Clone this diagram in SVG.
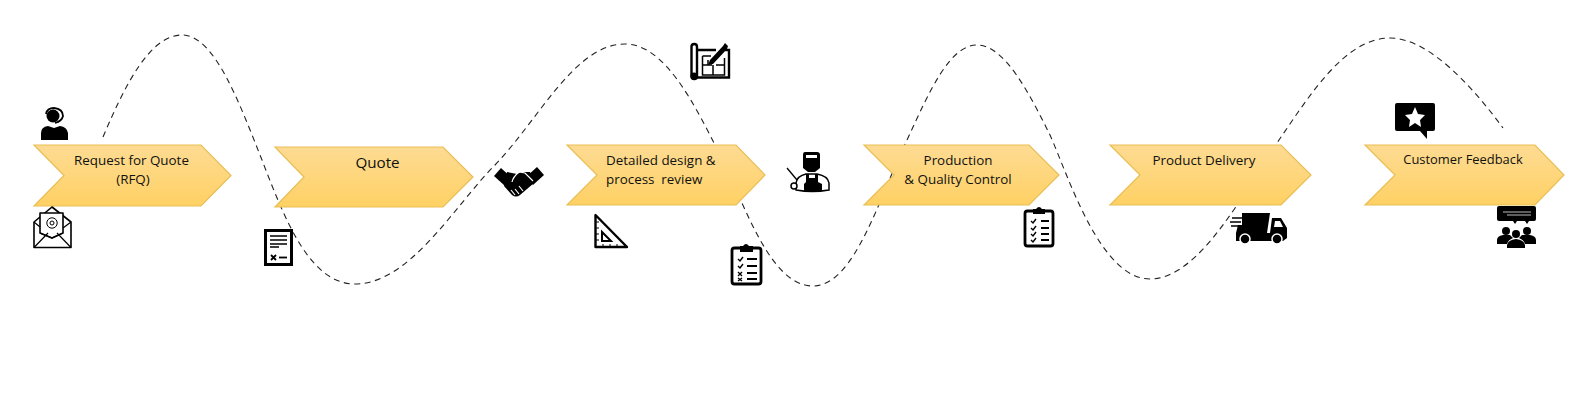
<svg xmlns="http://www.w3.org/2000/svg" width="1569" height="408" viewBox="0 0 1569 408">
<defs>
<linearGradient id="gold" x1="0" y1="0" x2="0" y2="1"><stop offset="0" stop-color="#FDDB93"/><stop offset="1" stop-color="#FFD164"/></linearGradient>
</defs>
<style>
.chev{fill:url(#gold);stroke:#E9BE55;stroke-width:1.2}
.lbl{font-family:"Open Sans","Liberation Sans",sans-serif;font-size:13.4px;fill:#111;white-space:pre}
.mid{text-anchor:middle}
.curve{fill:none;stroke:#222;stroke-width:1.1;stroke-dasharray:6 4.5}
.k{fill:#000;stroke:none}
.w{fill:#fff;stroke:none}
.o{fill:#fff;stroke:#000;stroke-width:1.6;stroke-linejoin:round}
</style>
<rect width="1569" height="408" fill="#fff"/>
<g id="connectors">
<path class="curve" d="M103 137C125 85 150 35 182 35C215 35 240 105 262 160C285 220 310 284 355 284C410 284 455 205 495 165C540 118 575 44 625 44C665 44 695 105 720 155C745 205 770 286 813 286C855 286 880 195 907 140C930 90 950 45 977 45C1005 45 1030 95 1050 135C1068 175 1100 279 1150 279C1200 279 1245 190 1279 140C1310 95 1345 38 1390 38C1430 38 1475 90 1503 128"/>
</g>
<g id="node-rfq"><path class="chev" d="M34 145H201L231 175.500L201 206H34L64 175.500Z"/><text class="lbl mid" x="131.500" y="165">Request for Quote</text><text class="lbl mid" x="133" y="184">(RFQ)</text></g>
<g id="node-quote"><path class="chev" d="M275 147H443L473 177L443 207H275L304 177Z"/><text class="lbl mid" x="377.500" y="168" style="font-size:15.200px">Quote</text></g>
<g id="node-design"><path class="chev" d="M567 145H736L765 175L736 205H567L597 175Z"/><text class="lbl" x="606" y="165">Detailed design &amp;</text><text class="lbl" x="606" y="184">process  review</text></g>
<g id="node-production"><path class="chev" d="M864 145H1029L1059 175L1029 205H864L894 175Z"/><text class="lbl mid" x="958" y="165">Production</text><text class="lbl mid" x="958" y="184">&amp; Quality Control</text></g>
<g id="node-delivery"><path class="chev" d="M1110 145H1281L1311 175L1281 205H1110L1140 175Z"/><text class="lbl mid" x="1204" y="165">Product Delivery</text></g>
<g id="node-feedback"><path class="chev" d="M1365 145H1535L1564 175L1535 205H1365L1395 175Z"/><text class="lbl mid" x="1463" y="164" style="font-size:12.900px">Customer Feedback</text></g>

<g id="icon-agent">
<circle class="k" cx="53" cy="116" r="6.500"/>
<path class="k" d="M41 140V133Q41 127 48 126L54 128L60 126Q67 127 68 133V140Z"/>
<path d="M46 114Q47 108 54 108Q63 109 63 116Q62 121 55 123" fill="none" stroke="#000" stroke-width="1.800"/>
</g>
<g id="icon-mail">
<path class="o" d="M34 222L52 207L71 222V247.500H34Z" stroke-width="1.300"/>
<path class="o" d="M40 213H63V233L52 238L40 233Z" stroke-width="1.300"/>
<path d="M34 222L40 227M71 222L63 228M34 247.500L48 233M71 247.500L57 233M40 233L52 238L63 233" fill="none" stroke="#000" stroke-width="1.200"/>
<circle cx="52" cy="223" r="5.200" fill="none" stroke="#000" stroke-width="1"/><circle cx="52" cy="223" r="2" fill="none" stroke="#000" stroke-width="1"/>
</g>
<g id="icon-document">
<rect x="265.500" y="230.500" width="26" height="34" fill="#fff" stroke="#000" stroke-width="3"/>
<path d="M270 236H287M270 240H287M270 244H287M270 247H279" fill="none" stroke="#000" stroke-width="1.400"/>
<path d="M271 255L276 260M276 255L271 260" stroke="#000" stroke-width="1.800"/>
<path d="M279 257.500H287" stroke="#000" stroke-width="1.800"/>
</g>
<g id="icon-handshake">
<path class="k" d="M494 176L501 168L512 178L505 186Z"/>
<path class="k" d="M544 175L537 167L526 177L533 185Z"/>
<path class="k" d="M507 172L517 174L521 172H530L534 183L520 195Q516 198 512 195L504 186Z"/>
<path d="M512 182Q513 177 519 172L525 173L533 181M515 189L519 194M511 190L515 195M519 186L523 191" fill="none" stroke="#fff" stroke-width="1.200"/>
</g>
<g id="icon-blueprint">
<rect x="691.500" y="44" width="5.500" height="35" rx="2.700" fill="#fff" stroke="#000" stroke-width="2.400"/>
<circle class="k" cx="694" cy="76" r="3.500"/>
<path d="M697 50H716M725 50H729V77.500H697" fill="none" stroke="#000" stroke-width="2.400"/>
<path d="M702.500 56H711M702.500 56V75H724.500V58M702.500 65H712M716 65H724.500M713 65V75M708 65V60" fill="none" stroke="#000" stroke-width="1.500"/>
<path class="k" d="M710 60L723 46L725 43L728 46L727 49L713 64L708 65Z"/>
</g>
<g id="icon-setsquare">
<path d="M595.500 215V247H627Z" fill="#fff" stroke="#000" stroke-width="2.400" stroke-linejoin="round"/>
<path d="M602 232V241H611Z" fill="#fff" stroke="#000" stroke-width="2"/>
<path d="M596 222H599M596 228H599M596 234H599M596 240H599M603 244V247M610 244V247M617 244V247" stroke="#000" stroke-width="1"/>
</g>
<g id="icon-checklist-a">
<rect x="732" y="248" width="29" height="36" rx="2.500" fill="#fff" stroke="#000" stroke-width="2.800"/>
<path class="k" d="M740 246H743Q746 242 749 246H753V252H740Z"/>
<path d="M738 259L740 261L743 257M738 266L740 268L743 264" fill="none" stroke="#000" stroke-width="1.400"/>
<path d="M738 272L742 276M742 272L738 276M738 278L742 281M742 278L738 281" stroke="#000" stroke-width="1.300"/>
<path d="M747 259H757M747 266H757M747 273H757M747 279H757" stroke="#000" stroke-width="2"/>
</g>
<g id="icon-welder">
<path class="k" d="M805 152H817Q820 152 820 155V168L815 172H808L803 168V155Q803 152 805 152Z"/><rect class="w" x="806" y="155" width="11" height="3"/>
<path d="M796 190V183Q797 176 806 174H817Q828 176 829 183V190Q812 193 796 190Z" fill="#fff" stroke="#000" stroke-width="1.500"/>
<path class="k" d="M806 174H809V178H815V174H818V182L822 184V191H804V184L806 182Z"/>
<path d="M787 168L797 180" stroke="#000" stroke-width="1.300"/>
<circle cx="794" cy="186" r="3" fill="#fff" stroke="#000" stroke-width="1.500"/>
</g>
<g id="icon-checklist-b">
<rect x="1025" y="211" width="28" height="35" rx="2.500" fill="#fff" stroke="#000" stroke-width="2.800"/>
<path class="k" d="M1033 209H1036Q1039 205 1042 209H1045V214H1033Z"/>
<path d="M1031 221L1033 223L1036 219M1031 228L1033 230L1036 226M1031 234L1033 236L1036 232M1031 240L1033 242L1036 238" fill="none" stroke="#000" stroke-width="1.400"/>
<path d="M1041 221H1049M1041 228H1049M1041 234H1049M1041 240H1049" stroke="#000" stroke-width="2"/>
</g>
<g id="icon-truck">
<path class="k" d="M1242 213H1270L1267 233H1236L1238 225H1242Z"/>
<path class="k" d="M1236 233H1270L1272 218H1281L1287 228V238L1283 241H1236Z"/>
<path class="w" d="M1275 221H1280L1283 227H1274Z"/>
<path d="M1232 218H1242M1230 222H1241M1231 226H1240" stroke="#000" stroke-width="1.500"/>
<circle cx="1245" cy="239" r="5" fill="#000" stroke="#fff" stroke-width="1.500"/><circle cx="1277" cy="239" r="5" fill="#000" stroke="#fff" stroke-width="1.500"/>
</g>
<g id="icon-star">
<path class="k" d="M1397 103H1433Q1435 103 1435 105V129Q1435 131 1433 131H1427V139L1420 131H1397Q1395 131 1395 129V105Q1395 103 1397 103Z"/>
<path class="w" d="M1415 107L1418 114L1425 115L1420 120L1421 127L1415 123L1409 127L1410 120L1405 115L1412 114Z"/>
</g>
<g id="icon-audience">
<path class="k" d="M1499 206H1534Q1536 206 1536 208V219Q1536 221 1534 221H1499Q1497 221 1497 219V208Q1497 206 1499 206Z"/>
<path d="M1503 212H1531M1507 215H1531" stroke="#bbb" stroke-width="1"/>
<path class="k" d="M1513 221L1515 224L1517 221ZM1525 221L1527 224L1529 221Z"/>
<circle class="k" cx="1506" cy="231" r="4"/><circle class="k" cx="1527" cy="231" r="4"/><circle class="k" cx="1516" cy="234" r="4"/>
<path class="k" d="M1497 244V240Q1497 236 1503 235H1510L1513 238Q1508 240 1507 244Z"/>
<path class="k" d="M1536 244V240Q1536 236 1530 235H1522L1519 238Q1524 240 1525 244Z"/>
<path class="k" d="M1507 248V245Q1508 240 1516 239Q1524 240 1525 245V248Z"/>
</g>
</svg>
